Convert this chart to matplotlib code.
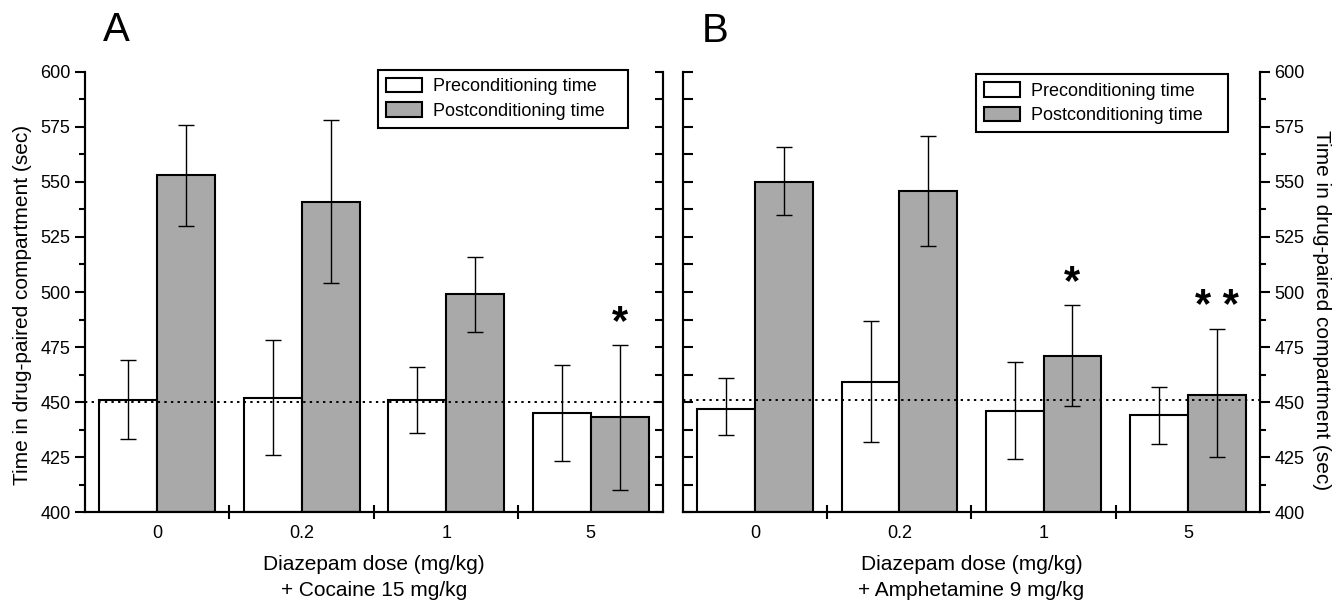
import numpy as np
import matplotlib
matplotlib.use("Agg")
import matplotlib.pyplot as plt
from matplotlib.ticker import MultipleLocator

plt.rcParams["font.family"] = ["Liberation Sans", "DejaVu Sans"]

doses = ["0", "0.2", "1", "5"]

# panel A: diazepam + cocaine 15 mg/kg
a_pre = [451, 452, 451, 445]
a_pre_lo = [433, 426, 436, 423]
a_pre_hi = [469, 478, 466, 467]
a_post = [553, 541, 499, 443]
a_post_lo = [530, 504, 482, 410]
a_post_hi = [576, 578, 516, 476]
a_stars = ["", "", "", "*"]

# panel B: diazepam + amphetamine 9 mg/kg
b_pre = [447, 459, 446, 444]
b_pre_lo = [435, 432, 424, 431]
b_pre_hi = [461, 487, 468, 457]
b_post = [550, 546, 471, 453]
b_post_lo = [535, 521, 448, 425]
b_post_hi = [566, 571, 494, 483]
b_stars = ["", "", "*", "* *"]

GRAY = "#a9a9a9"
LW = 1.5

fig = plt.figure(figsize=(13.34, 6.02), dpi=100)
axA = fig.add_axes([0.0637, 0.1495, 0.4333, 0.7309])
axB = fig.add_axes([0.512, 0.1495, 0.4325, 0.7309])


def panel(ax, pre, pre_lo, pre_hi, post, post_lo, post_hi, stars, base, leg_box):
    x = np.arange(len(doses))
    pre, post = np.array(pre), np.array(post)
    ax.bar(x + 0.3, pre - 400, width=0.4, bottom=400, color="white", edgecolor="black",
           linewidth=LW, label="Preconditioning time", zorder=2)
    ax.bar(x + 0.7, post - 400, width=0.4, bottom=400, color=GRAY, edgecolor="black",
           linewidth=LW, label="Postconditioning time", zorder=2)
    ax.errorbar(x + 0.3, pre, yerr=[pre - np.array(pre_lo), np.array(pre_hi) - pre],
                fmt="none", ecolor="black", elinewidth=1.0, capsize=5.5, capthick=1.0, zorder=3)
    ax.errorbar(x + 0.7, post, yerr=[post - np.array(post_lo), np.array(post_hi) - post],
                fmt="none", ecolor="black", elinewidth=1.0, capsize=5.5, capthick=1.0, zorder=3)
    ax.axhline(base, color="black", ls=(0, (1.2, 2.2)), lw=1.4, zorder=4)
    # significance marks sit just above the postconditioning error bar
    for i, s in enumerate(stars):
        if s:
            ax.text(i + 0.7, post_hi[i] + 10, s, ha="center", va="center",
                    fontsize=30, fontweight="bold")
    ax.set_xlim(0, 4)
    ax.set_ylim(400, 600)
    ax.set_xticks(x + 0.5)
    ax.set_xticklabels(doses, fontsize=13)
    ax.set_xticks([1, 2, 3], minor=True)
    ax.tick_params(axis="x", which="major", length=0, pad=9)
    ax.tick_params(axis="x", which="minor", direction="inout", length=10, width=LW)
    ax.yaxis.set_major_locator(MultipleLocator(25))
    ax.yaxis.set_minor_locator(MultipleLocator(12.5))
    for sp in ax.spines.values():
        sp.set_linewidth(LW)
    ax.spines["top"].set_visible(False)
    leg = ax.legend(loc="upper left", bbox_to_anchor=leg_box, mode="expand", fontsize=13,
                    fancybox=False, framealpha=1, edgecolor="black", handlelength=2.0,
                    handleheight=0.85, borderpad=0.45, labelspacing=0.38, handletextpad=0.6,
                    borderaxespad=0)
    leg.get_frame().set_linewidth(LW)
    tw = ax.twinx()
    tw.set_ylim(400, 600)
    tw.yaxis.set_major_locator(MultipleLocator(25))
    tw.yaxis.set_minor_locator(MultipleLocator(12.5))
    tw.spines["top"].set_visible(False)
    for sp in tw.spines.values():
        sp.set_linewidth(LW)
    return tw


twA = panel(axA, a_pre, a_pre_lo, a_pre_hi, a_post, a_post_lo, a_post_hi,
            a_stars, 450, (0.507, 0.2, 0.433, 0.805))
twB = panel(axB, b_pre, b_pre_lo, b_pre_hi, b_post, b_post_lo, b_post_hi,
            b_stars, 451, (0.508, 0.2, 0.437, 0.795))

ylab = "Time in drug-paired compartment (sec)"

# A: labelled outward ticks on the left, inward plain ticks on the right
axA.tick_params(axis="y", which="major", direction="out", length=7, width=LW, labelsize=13)
axA.tick_params(axis="y", which="minor", direction="out", length=4, width=LW)
twA.tick_params(axis="y", which="both", direction="in", length=6, width=LW, labelright=False)
axA.set_ylabel(ylab, fontsize=15)
axA.yaxis.set_label_coords(-0.092, 0.47)

# B: inward plain ticks on the left, labelled outward ticks on the right
axB.tick_params(axis="y", which="both", direction="in", length=7, width=LW, labelleft=False)
twB.tick_params(axis="y", which="major", direction="out", length=7, width=LW, labelsize=13)
twB.tick_params(axis="y", which="minor", direction="out", length=4, width=LW)
twB.set_ylabel(ylab, fontsize=15, rotation=270, va="center")
twB.yaxis.set_label_coords(1.107, 0.46)

axA.set_xlabel("Diazepam dose (mg/kg)\n+ Cocaine 15 mg/kg", fontsize=15,
               labelpad=10, linespacing=1.45)
axB.set_xlabel("Diazepam dose (mg/kg)\n+ Amphetamine 9 mg/kg", fontsize=15,
               labelpad=10, linespacing=1.45)

fig.text(0.087, 0.95, "A", fontsize=29, ha="center", va="center")
fig.text(0.536, 0.949, "B", fontsize=29, ha="center", va="center")

fig.savefig("out.png", dpi=100)
